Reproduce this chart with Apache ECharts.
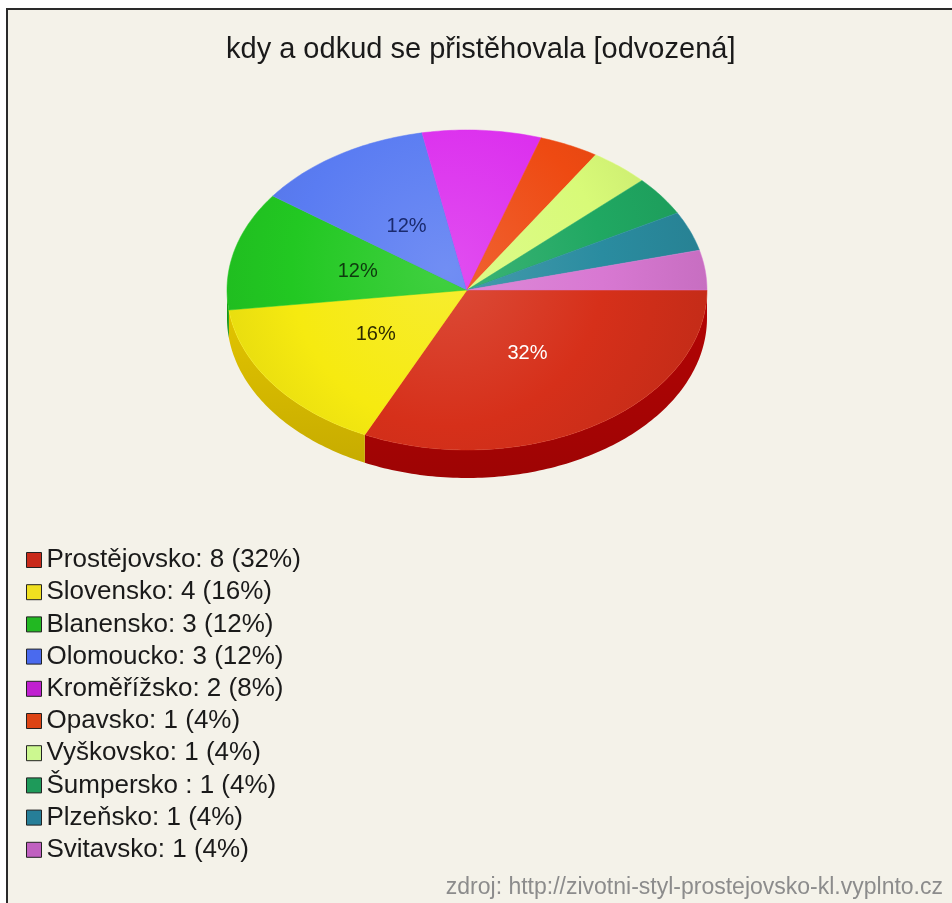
<!DOCTYPE html>
<html><head><meta charset="utf-8">
<script src="https://cdn.jsdelivr.net/npm/echarts@6/dist/echarts.min.js"></script>
<style>
html,body{margin:0;padding:0;background:#ffffff;overflow:hidden;}
#frame{position:absolute;left:6px;top:8px;width:960px;height:900px;border-left:2px solid #2a2a2a;border-top:2px solid #2a2a2a;background:#f4f2e9;}
#chart{position:absolute;left:0;top:0;width:952px;height:903px;}
</style></head><body>
<div id="frame"></div><div id="chart"></div>
<script>
// ---- data ----
const categories = ['Prostějovsko', 'Slovensko', 'Blanensko', 'Olomoucko', 'Kroměřížsko', 'Opavsko', 'Vyškovsko', 'Šumpersko ', 'Plzeňsko', 'Svitavsko'];
const counts = [8, 4, 3, 3, 2, 1, 1, 1, 1, 1];
const titleText = 'kdy a odkud se přistěhovala [odvozená]';
const sourceText = 'zdroj: http://zivotni-styl-prostejovsko-kl.vyplnto.cz';

// ---- styles ----
const topColors = ['#d6301a', '#f6ea10', '#22c822', '#5a7cf2', '#dc30ee', '#ee4a12', '#d8fa78', '#20a862', '#2a8ca0', '#d878d2'];
const sideColors = ['#b40404', '#e2c400', '#18a418', '#4060d0', '#b020c0', '#c83a08', '#b8d860', '#188a50', '#227080', '#b060b0'];
const legendColors = ['#c82a1a', '#f0e020', '#22b822', '#4a6aee', '#c020d0', '#dd4414', '#ccf890', '#1e9a5a', '#267e98', '#c060c0'];
const labelColors = ['#ffffff', '#2e2a00', '#0e3a0e', '#1a2a6e', '#300030', '#300000', '#202000', '#002010', '#001820', '#301030'];

const CX = 467, CY = 290, RX = 240, RY = 160, DEPTH = 28;

const total = counts.reduce((a, b) => a + b, 0);
const pct = counts.map(v => Math.round(v / total * 100));
const starts = [];
let acc = 0;
counts.forEach(v => { starts.push(acc); acc += v; });
const sliceData = counts.map((v, i) => ({ name: categories[i], value: [v, starts[i]] }));

function mix(hex, target, t) {
  const p = h => [parseInt(h.substr(1, 2), 16), parseInt(h.substr(3, 2), 16), parseInt(h.substr(5, 2), 16)];
  const a = p(hex), b = p(target);
  return 'rgb(' + a.map((c, k) => Math.round(c + (b[k] - c) * t)).join(',') + ')';
}
function arcPts(a0, a1, dy) {
  const n = Math.max(2, Math.ceil((a1 - a0) / (Math.PI / 180)));
  const pts = [];
  for (let k = 0; k <= n; k++) {
    const a = a0 + (a1 - a0) * k / n;
    pts.push([CX + RX * Math.cos(a), CY + dy + RY * Math.sin(a)]);
  }
  return pts;
}
function angles(api) {
  const v = api.value(0), s = api.value(1);
  return [s / total * 2 * Math.PI, (s + v) / total * 2 * Math.PI];
}
function renderSide(params, api) {
  const [a0, a1] = angles(api);
  const b0 = Math.max(a0, 0), b1 = Math.min(a1, Math.PI);
  if (b1 <= b0) return null;
  const i = params.dataIndex;
  const pts = arcPts(b0, b1, 0).concat(arcPts(b0, b1, DEPTH).reverse());
  return {
    type: 'polygon',
    shape: { points: pts },
    style: {
      fill: new echarts.graphic.LinearGradient(0, 0, 0, 1, [
        { offset: 0, color: sideColors[i] },
        { offset: 1, color: mix(sideColors[i], '#000000', 0.12) }
      ])
    }
  };
}
function renderTop(params, api) {
  const [a0, a1] = angles(api);
  const i = params.dataIndex;
  const pts = [[CX, CY]].concat(arcPts(a0, a1, 0));
  const children = [{
    type: 'polygon',
    shape: { points: pts },
    style: {
      fill: new echarts.graphic.RadialGradient(CX - 20, CY - 20, RX + 20, [
        { offset: 0, color: mix(topColors[i], '#ffffff', 0.14) },
        { offset: 0.6, color: topColors[i] },
        { offset: 1, color: mix(topColors[i], '#000000', 0.08) }
      ], true),
      stroke: topColors[i], lineWidth: 0.5
    }
  }];
  if (pct[i] >= 10) {
    const m = (a0 + a1) / 2;
    children.push({
      type: 'text',
      x: CX + RX * 0.47 * Math.cos(m),
      y: CY + RY * 0.47 * Math.sin(m),
      style: {
        text: pct[i] + '%',
        fill: labelColors[i],
        font: '20px "Liberation Sans", Arial, sans-serif',
        align: 'center', verticalAlign: 'middle',
        textAlign: 'center', textVerticalAlign: 'middle'
      }
    });
  }
  return { type: 'group', children: children };
}

const chart = echarts.init(document.getElementById('chart'), null, { renderer: 'canvas' });
chart.setOption({
  backgroundColor: 'transparent',
  animation: false,
  title: [
    { text: titleText, left: 221, top: 30,
      textStyle: { fontFamily: 'Liberation Sans', fontSize: 29, fontWeight: 'normal', color: '#1a1a1a' } },
    { text: sourceText, right: 4, top: 871,
      textStyle: { fontFamily: 'Liberation Sans', fontSize: 23, fontWeight: 'normal', color: '#8c8c8c' } }
  ],
  legend: {
    orient: 'vertical', left: 26, top: 547, padding: 0,
    itemWidth: 15, itemHeight: 15, itemGap: 6.2, icon: 'rect', selectedMode: false,
    itemStyle: { borderColor: '#222222', borderWidth: 1 },
    textStyle: { fontFamily: 'Liberation Sans', fontSize: 26, color: '#1a1a1a', lineHeight: 26 },
    formatter: function (name) {
      const i = categories.indexOf(name);
      return name + ': ' + counts[i] + ' (' + pct[i] + '%)';
    },
    data: categories
  },
  series: [
    {
      type: 'pie', radius: [0, 0], center: [CX, CY], silent: true, z: 0,
      label: { show: false }, labelLine: { show: false },
      data: categories.map((n, i) => ({ name: n, value: counts[i], itemStyle: { color: legendColors[i] } }))
    },
    { type: 'custom', name: 'side', coordinateSystem: 'none', z: 1, silent: true, renderItem: renderSide, data: sliceData },
    { type: 'custom', name: 'top', coordinateSystem: 'none', z: 2, silent: true, renderItem: renderTop, data: sliceData }
  ]
});
</script>
</body></html>
